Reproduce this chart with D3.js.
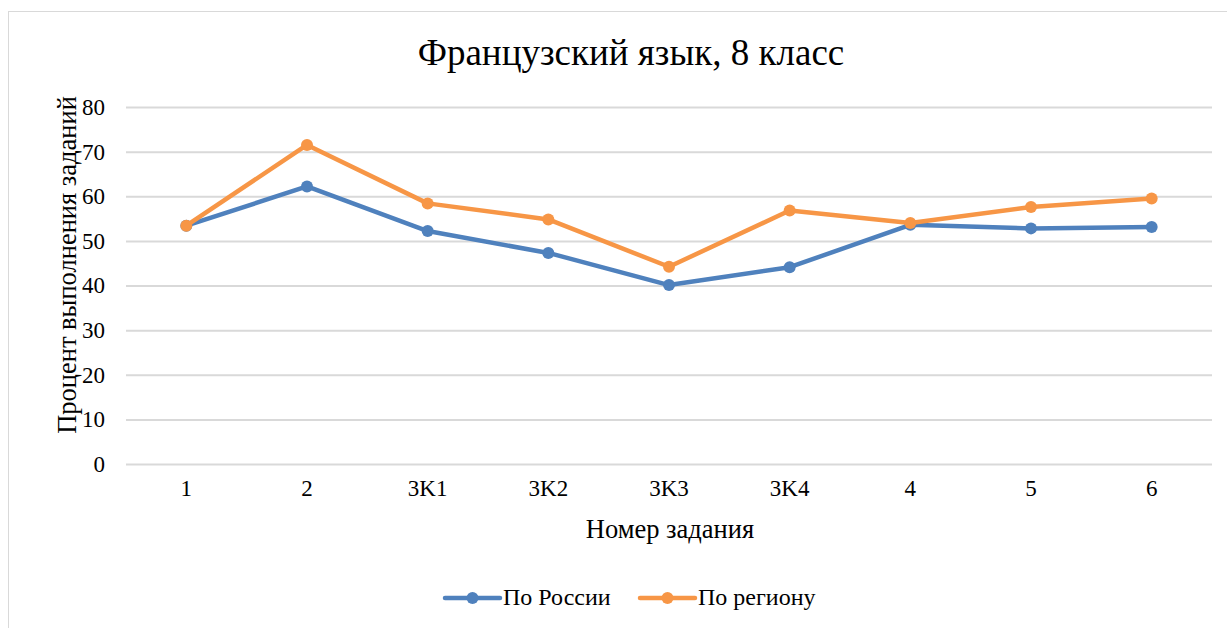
<!DOCTYPE html>
<html>
<head>
<meta charset="utf-8">
<script src="https://cdn.jsdelivr.net/npm/d3@7"></script>
<style>
	body { margin: 0; background: #fff; }
	svg { display: block; }
	svg text { font-family: "Liberation Serif", "DejaVu Serif", "Noto Serif", "Times New Roman", serif; fill: #000; }
</style>
</head>
<body>
<div id="chart"></div>
<script>
const CATEGORIES = ["1", "2", "3K1", "3K2", "3K3", "3K4", "4", "5", "6"];
const RUSSIA = [53.4, 62.2, 52.2, 47.3, 40.1, 44.1, 53.6, 52.8, 53.1];
const REGION = [53.4, 71.5, 58.4, 54.8, 44.2, 56.8, 54.0, 57.6, 59.5];
const Y_TICKS = [0, 10, 20, 30, 40, 50, 60, 70, 80];
const SERIES = [
	{name: "По России", values: RUSSIA, color: "#4f81bd"},
	{name: "По региону", values: REGION, color: "#f79646"}
];

const WIDTH = 1227, HEIGHT = 628;
const PLOT = {left: 126, right: 1212, top: 107, bottom: 464};

const svg = d3.select("#chart").append("svg")
	.attr("width", WIDTH)
	.attr("height", HEIGHT);

// chart frame
svg.append("rect")
	.attr("x", 8.5).attr("y", 11.5)
	.attr("width", WIDTH + 10).attr("height", HEIGHT + 10)
	.attr("fill", "#fff")
	.attr("stroke", "#d9d9d9");

const x = d3.scaleBand().domain(CATEGORIES).range([PLOT.left, PLOT.right]);
const y = d3.scaleLinear().domain([0, 80]).range([PLOT.bottom, PLOT.top]);

// gridlines + y labels
const yAxis = svg.append("g")
	.attr("transform", `translate(${PLOT.left},0)`)
	.call(d3.axisLeft(y).tickValues(Y_TICKS).tickSize(-(PLOT.right - PLOT.left)).tickPadding(21));
yAxis.attr("font-family", null);
yAxis.select(".domain").remove();
yAxis.selectAll(".tick line").attr("stroke", "#d9d9d9").attr("stroke-width", 2);
yAxis.selectAll(".tick text").style("font-size", "23px");

// x labels
const xAxis = svg.append("g")
	.attr("transform", `translate(0,${PLOT.bottom})`)
	.call(d3.axisBottom(x).tickSize(0).tickPadding(16));
xAxis.attr("font-family", null);
xAxis.select(".domain").remove();
xAxis.selectAll(".tick text").style("font-size", "23px");

// lines
const line = d3.line()
	.x((d, i) => x(CATEGORIES[i]) + x.bandwidth() / 2)
	.y((d) => y(d));

SERIES.forEach((s) => {
	svg.append("path")
		.datum(s.values)
		.attr("fill", "none")
		.attr("stroke", s.color)
		.attr("stroke-width", 4.5)
		.attr("stroke-linejoin", "round")
		.attr("d", line);
	svg.append("g").selectAll("circle")
		.data(s.values)
		.enter().append("circle")
		.attr("cx", (d, i) => x(CATEGORIES[i]) + x.bandwidth() / 2)
		.attr("cy", (d) => y(d))
		.attr("r", 6)
		.attr("fill", s.color);
});

// title
svg.append("text")
	.attr("x", 631).attr("y", 65)
	.attr("text-anchor", "middle")
	.style("font-size", "37px")
	.text("Французский язык, 8 класс");

// axis titles
svg.append("text")
	.attr("transform", "translate(76,265) rotate(-90)")
	.attr("text-anchor", "middle")
	.style("font-size", "26.5px")
	.text("Процент выполнения заданий");

svg.append("text")
	.attr("x", 670).attr("y", 538)
	.attr("text-anchor", "middle")
	.style("font-size", "26.5px")
	.text("Номер задания");

// legend
const LEGEND_X = [445, 640];
SERIES.forEach((s, i) => {
	const g = svg.append("g").attr("transform", `translate(${LEGEND_X[i]},598)`);
	g.append("line")
		.attr("x1", 0).attr("x2", 55)
		.attr("stroke", s.color).attr("stroke-width", 4.5).attr("stroke-linecap", "round");
	g.append("circle").attr("cx", 27.5).attr("r", 6).attr("fill", s.color);
	g.append("text")
		.attr("x", 58).attr("y", 7)
		.style("font-size", "24px")
		.text(s.name);
});
</script>
</body>
</html>
